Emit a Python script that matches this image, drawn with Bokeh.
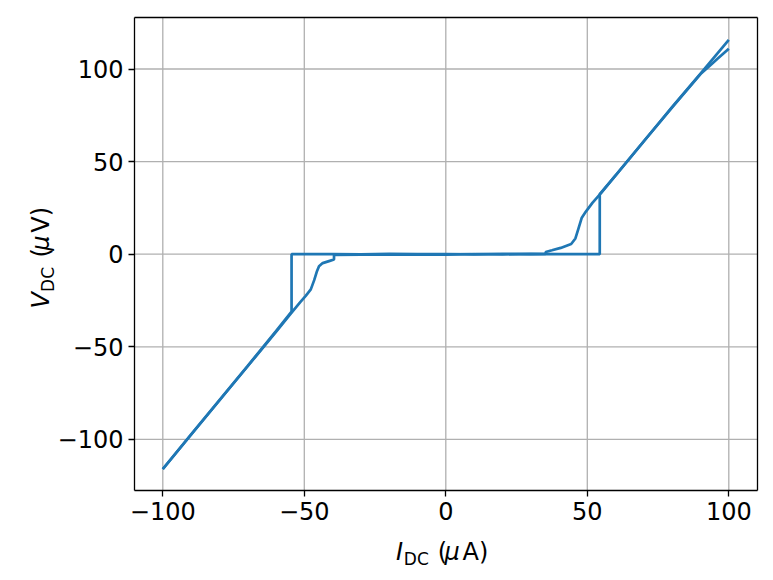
import math
from bokeh.plotting import figure
from bokeh.models import Range1d, FixedTicker, Label, LinearAxis
from bokeh.embed import file_html
from bokeh.resources import INLINE

# ---- data ----
# sweep with increasing current (-100 -> +100 uA)
up_I = [-100, -90, -80, -70, -60, -55, -51.5, -49.5, -47.7, -46.5, -45.6, -44.8, -43.5, -41, -39.5,
        -39.5, -30, -20, -10, 0, 10, 20, 30, 40, 50, 54.4,
        54.4, 60, 70, 80, 90, 100]
up_V = [-116, -97.5, -79, -60.5, -42, -32.5, -26, -22.5, -19, -14, -9.5, -6.5, -4.8, -3.6, -2.9,
        -0.4, -0.2, -0.3, -0.1, -0.2, 0.1, -0.1, 0.2, 0.0, 0.1, 0.0,
        32.4, 42.5, 61, 79.5, 97.5, 115.7]
# sweep with decreasing current (+100 -> -100 uA)
down_I = [100, 96, 93, 90, 80, 70, 60, 55, 51.8, 49.5, 48.0, 46.9, 45.8, 44.3, 40.6, 37.5, 35.3,
          35.3, 30, 20, 10, 0, -10, -20, -30, -40, -50, -54.5,
          -54.5, -60, -70, -80, -90, -100]
down_V = [111, 105.5, 101.3, 97.3, 79.3, 61, 42.6, 33.3, 27.7, 23.0, 19.5, 14.0, 8.5, 5.5, 3.4, 2.1, 1.2,
          0.1, 0.0, 0.2, -0.1, 0.1, 0.0, 0.2, -0.1, 0.1, 0.0, 0.0,
          -31, -41.5, -60.3, -78.8, -97.3, -116]

x_ticks = [-100, -50, 0, 50, 100]
x_tick_labels = ["\u2212100", "\u221250", "0", "50", "100"]
y_ticks = [-100, -50, 0, 50, 100]
y_tick_labels = ["\u2212100", "\u221250", "0", "50", "100"]

FONT = "DejaVu Sans"
C0 = "#1f77b4"
GRID = "#b0b0b0"

# axes box limits (data units) and canvas geometry (pixels)
X0, X1 = -110, 110
Y0, Y1 = -127.6, 127.6
W, H = 765, 572
BOX_L, BOX_R, BOX_T, BOX_B = 134, 756.6, 17.4, 490
kx = (BOX_R - BOX_L) / (X1 - X0)
ky = (BOX_B - BOX_T) / (Y1 - Y0)
xr = Range1d(X0 - BOX_L / kx, X1 + (W - BOX_R) / kx)
yr = Range1d(Y0 - (H - BOX_B) / ky, Y1 + BOX_T / ky)

p = figure(width=W, height=H, output_backend="svg", toolbar_location=None,
           x_range=xr, y_range=yr, min_border=0)
p.background_fill_color = "white"
p.border_fill_color = "white"
p.outline_line_color = None
p.grid.visible = False

# grid lines
p.segment(x0=x_ticks, y0=[Y0] * len(x_ticks), x1=x_ticks, y1=[Y1] * len(x_ticks),
          line_color=GRID, line_width=1.3)
p.segment(x0=[X0] * len(y_ticks), y0=y_ticks, x1=[X1] * len(y_ticks), y1=y_ticks,
          line_color=GRID, line_width=1.3)

# data
p.line(up_I, up_V, line_color=C0, line_width=2.7)
p.line(down_I, down_V, line_color=C0, line_width=2.7)

# axes at the edges of the box
p.xaxis.fixed_location = Y0
p.yaxis.fixed_location = X0
p.xaxis.bounds = (X0, X1)
p.yaxis.bounds = (Y0, Y1)
p.xaxis.ticker = FixedTicker(ticks=x_ticks)
p.yaxis.ticker = FixedTicker(ticks=y_ticks)
p.xaxis.major_label_overrides = dict(zip(x_ticks, x_tick_labels))
p.yaxis.major_label_overrides = dict(zip(y_ticks, y_tick_labels))

for ax in (p.xaxis, p.yaxis):
    ax.axis_line_color = "black"
    ax.axis_line_width = 1.3
    ax.major_tick_line_color = "black"
    ax.major_tick_line_width = 1.3
    ax.major_tick_in = 0
    ax.major_tick_out = 6
    ax.minor_tick_line_color = None
    ax.major_label_text_font = FONT
    ax.major_label_text_font_size = "24px"
    ax.major_label_text_color = "black"
    ax.major_label_standoff = 5

# top and right spines
top = LinearAxis(fixed_location=Y1, bounds=(X0, X1), ticker=FixedTicker(ticks=[]),
                 major_tick_line_color=None, minor_tick_line_color=None,
                 major_label_text_color=None, axis_line_color="black", axis_line_width=1.3)
right = LinearAxis(fixed_location=X1, bounds=(Y0, Y1), ticker=FixedTicker(ticks=[]),
                   major_tick_line_color=None, minor_tick_line_color=None,
                   major_label_text_color=None, axis_line_color="black", axis_line_width=1.3)
p.add_layout(top, "above")
p.add_layout(right, "right")

def lab(dx, dy, text, size="24px", style="normal", angle=0):
    # offsets in pixels from the bottom-left corner of the axes box
    p.add_layout(Label(x=X0, y=Y0, x_offset=dx, y_offset=dy, text=text,
                       text_font=FONT, text_font_size=size, text_font_style=style,
                       text_color="black", text_align="left", text_baseline="alphabetic",
                       angle=angle))

# x axis label:  I_DC (muA)
xb = -61.7
lab(261.5, xb, "I", style="italic")
lab(269.3, xb - 6.5, "DC", size="17px")
lab(303.3, xb, "(")
lab(310.0, xb, "\u03bc", style="italic")
lab(328.0, xb, "A)")

# y axis label:  V_DC (muV), rotated
a = math.pi / 2
yb = -93.5
lab(yb, 182.0, "V", style="italic", angle=a)
lab(yb + 6.5, 198.6, "DC", size="17px", angle=a)
lab(yb, 233.1, "(", angle=a)
lab(yb, 239.8, "\u03bc", style="italic", angle=a)
lab(yb, 257.8, "V)", angle=a)

open("out.html", "w").write(file_html(p, INLINE))
